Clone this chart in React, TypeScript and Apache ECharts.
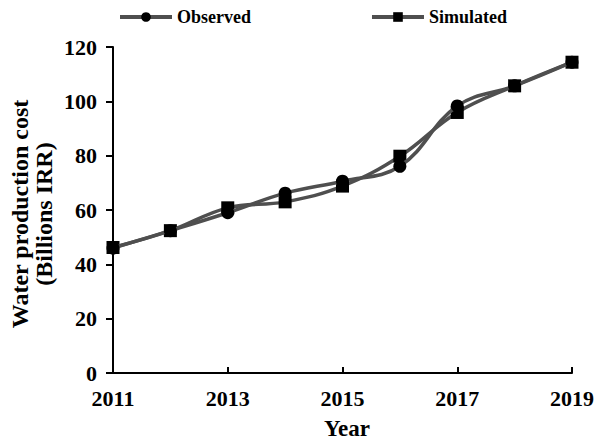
import React, { useEffect, useRef } from "react";
import * as echarts from "echarts";

const years = ["2011", "2012", "2013", "2014", "2015", "2016", "2017", "2018", "2019"];
const observed = [46.0, 52.4, 59.0, 66.2, 70.6, 76.1, 98.3, 105.7, 114.4];
const simulated = [46.2, 52.4, 60.8, 63.0, 68.8, 79.8, 95.9, 105.7, 114.4];
const yTicks = { min: 0, max: 120, interval: 20 };

const FONT = "'Liberation Serif', 'Times New Roman', serif";

export default function App() {
  const ref = useRef<HTMLDivElement>(null);
  useEffect(() => {
    document.body.style.margin = "0";
    const chart = echarts.init(ref.current!, null, { renderer: "svg" });
    const lineColor = "#4f4f4f";
    chart.setOption({
      animation: false,
      textStyle: { fontFamily: FONT, fontWeight: "bold", color: "#000" },
      legend: {
        left: 113,
        top: 3,
        itemWidth: 52,
        itemHeight: 12,
        itemGap: 119,
        lineStyle: { width: 4, color: lineColor },
        textStyle: { fontFamily: FONT, fontWeight: "bold", fontSize: 18, color: "#000" },
        data: ["Observed", "Simulated"],
      },
      grid: { left: 113, right: 24, top: 47, bottom: 66, containLabel: false },
      xAxis: {
        type: "category",
        data: years,
        boundaryGap: false,
        axisLine: { lineStyle: { color: "#000", width: 2 } },
        axisTick: { inside: true, length: 6, interval: 1, lineStyle: { color: "#000", width: 2 } },
        axisLabel: {
          interval: 1,
          margin: 14,
          fontFamily: FONT,
          fontWeight: "bold",
          fontSize: 22,
          color: "#000",
        },
        splitLine: { show: false },
      },
      yAxis: {
        type: "value",
        min: yTicks.min,
        max: yTicks.max,
        interval: yTicks.interval,
        axisLine: { show: true, lineStyle: { color: "#000", width: 2 } },
        axisTick: { show: true, length: 7, lineStyle: { color: "#000", width: 2 } },
        axisLabel: {
          margin: 16,
          fontFamily: FONT,
          fontWeight: "bold",
          fontSize: 22,
          color: "#000",
        },
        splitLine: { show: false },
      },
      graphic: [
        {
          type: "text",
          x: 20,
          y: 214,
          rotation: Math.PI / 2,
          style: {
            text: "Water production cost",
            font: `bold 24px ${FONT}`,
            fill: "#000",
            textAlign: "center",
            textVerticalAlign: "middle",
          },
        },
        {
          type: "text",
          x: 44,
          y: 214,
          rotation: Math.PI / 2,
          style: {
            text: "(Billions IRR)",
            font: `bold 24px ${FONT}`,
            fill: "#000",
            textAlign: "center",
            textVerticalAlign: "middle",
          },
        },
        {
          type: "text",
          x: 347,
          y: 428,
          style: {
            text: "Year",
            font: `bold 23px ${FONT}`,
            fill: "#000",
            textAlign: "center",
            textVerticalAlign: "middle",
          },
        },
      ],
      series: [
        {
          name: "Observed",
          type: "line",
          data: observed,
          smooth: 0.4,
          symbol: "circle",
          symbolSize: 13,
          itemStyle: { color: "#000" },
          lineStyle: { color: lineColor, width: 3.5 },
          z: 3,
        },
        {
          name: "Simulated",
          type: "line",
          data: simulated,
          smooth: 0.4,
          symbol: "rect",
          symbolSize: 13,
          itemStyle: { color: "#000" },
          lineStyle: { color: lineColor, width: 3.5 },
          z: 2,
        },
      ],
    });
    return () => chart.dispose();
  }, []);
  return <div ref={ref} style={{ width: 597, height: 439 }} />;
}
